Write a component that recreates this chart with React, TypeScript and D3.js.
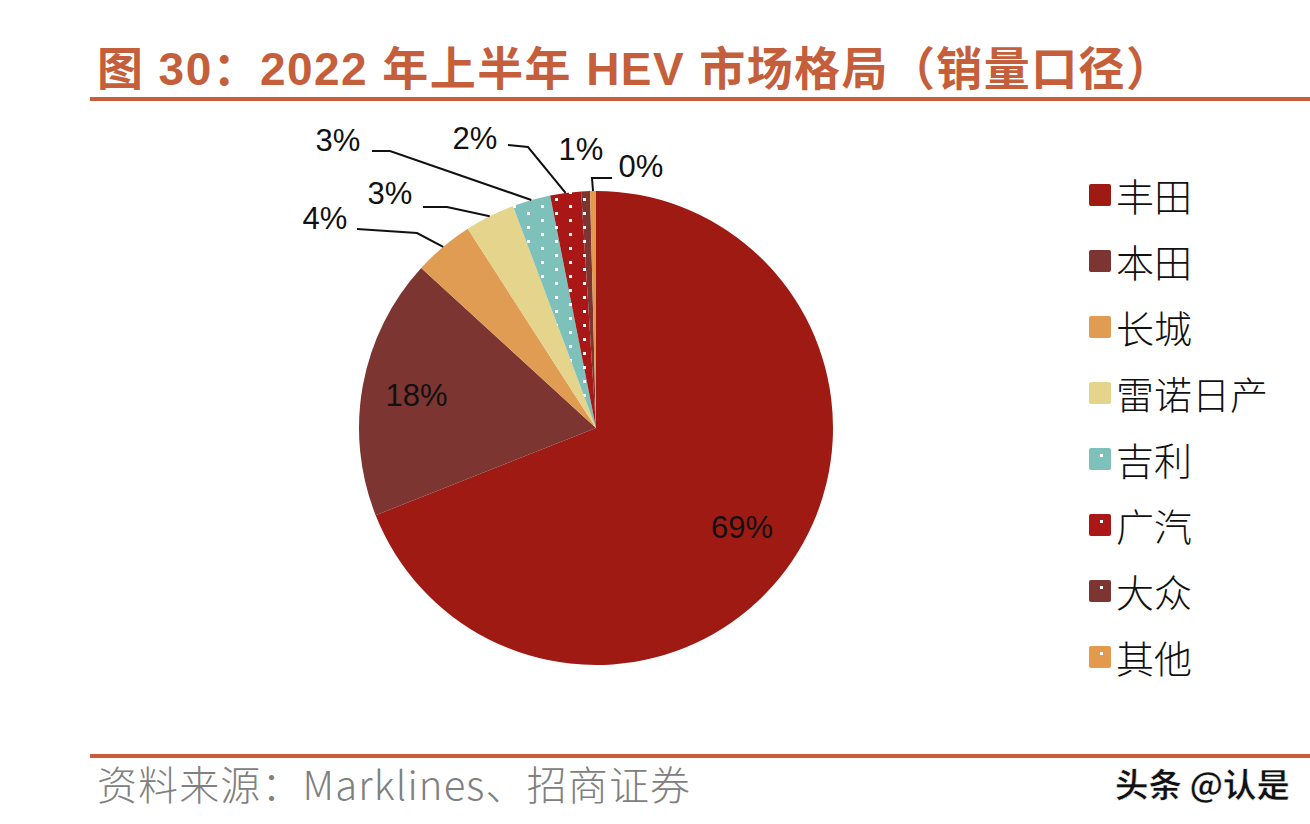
import React from 'react';
import * as d3 from 'd3';

// ---- data ----
const brands = ['丰田', '本田', '长城', '雷诺日产', '吉利', '广汽', '大众', '其他'];
const shares = [69.0, 17.8, 4.1, 3.4, 2.6, 2.1, 0.6, 0.4];
const colors = ['#9F1A13', '#7C3530', '#E09C53', '#E5D48B', '#7EC1BB', '#A91816', '#7C3530', '#E39A4C'];
const dotted = [false, false, false, false, true, true, true, true];
const titleText = '图 30：2022 年上半年 HEV 市场格局（销量口径）';
const sourceText = '资料来源：Marklines、招商证券';
const watermarkText = '头条 @认是';

// ---- layout (positions relative to pie centre) ----
type LabelLayout = { inside?: number; text?: [number, number]; path?: [number, number][] };
const labelLayout: LabelLayout[] = [
  { inside: 0.745 },
  { inside: 0.77 },
  { text: [-271, -210], path: [[-239, -199], [-179, -195]] },
  { text: [-206, -235], path: [[-173, -221], [-149, -221]] },
  { text: [-258, -288], path: [[-224, -277], [-206, -277]] },
  { text: [-121, -290], path: [[-88, -283], [-68, -281]] },
  { text: [-15, -279] },
  { text: [45, -262], path: [[16, -250], [-4, -250]] },
];

const W = 1310;
const H = 824;
const CX = 596;
const CY = 428;
const R = 237;
const LATIN = '"Liberation Sans", Arial, "Noto Sans CJK SC", sans-serif';
const CJK = '"Noto Sans CJK SC", "Liberation Sans", sans-serif';

export default function App() {
  const total = d3.sum(shares);
  const pie = d3.pie<number>().sort(null).value((d) => d).startAngle(0).endAngle(2 * Math.PI);
  const arcs = pie(shares);
  const arcGen = d3.arc<d3.PieArcDatum<number>>().innerRadius(0).outerRadius(R);
  const fmt = (v: number) => `${Math.round((v / total) * 100)}%`;

  return (
    <div style={{ position: 'absolute', left: 0, top: 0 }}>
      <svg width={W} height={H} style={{ display: 'block', background: '#fff' }}>
        <defs>
          {colors.map((c, i) =>
            dotted[i] ? (
              <pattern key={i} id={`dot-${i}`} patternUnits="userSpaceOnUse" width={28} height={14}>
                <rect width={28} height={14} fill={c} />
                <rect x={1} y={1} width={3} height={3} fill="#fff" />
                <rect x={15} y={8} width={3} height={3} fill="#fff" />
              </pattern>
            ) : null
          )}
        </defs>

        {/* title */}
        <text
          x={97}
          y={85}
          fontFamily={LATIN}
          fontWeight="bold"
          fontSize={46}
          fill="#C55F3B"
          textLength={1075}
          lengthAdjust="spacing"
        >
          {titleText}
        </text>
        <rect x={90} y={97} width={W - 90} height={4} fill="#C85D3A" />

        {/* pie */}
        <g transform={`translate(${CX},${CY})`}>
          {arcs.map((a, i) => (
            <path key={i} d={arcGen(a) || ''} fill={dotted[i] ? `url(#dot-${i})` : colors[i]} />
          ))}
          {arcs.map((a, i) => {
            const lay = labelLayout[i];
            const mid = (a.startAngle + a.endAngle) / 2;
            if (lay.inside !== undefined) {
              const rr = R * lay.inside;
              return (
                <text
                  key={`l${i}`}
                  x={Math.sin(mid) * rr}
                  y={-Math.cos(mid) * rr}
                  dy="0.36em"
                  textAnchor="middle"
                  fontFamily={LATIN}
                  fontSize={31}
                  fill="#111"
                >
                  {fmt(shares[i])}
                </text>
              );
            }
            const edge: [number, number] = [Math.sin(mid) * R, -Math.cos(mid) * R];
            const pts = lay.path ? [...lay.path, edge] : null;
            return (
              <g key={`l${i}`}>
                {pts && (
                  <path
                    d={d3.line()(pts) || ''}
                    fill="none"
                    stroke="#111"
                    strokeWidth={2}
                  />
                )}
                <text
                  x={lay.text![0]}
                  y={lay.text![1]}
                  dy="0.36em"
                  textAnchor="middle"
                  fontFamily={LATIN}
                  fontSize={31}
                  fill="#111"
                >
                  {fmt(shares[i])}
                </text>
              </g>
            );
          })}
        </g>

        {/* legend */}
        {brands.map((b, i) => {
          const cy = 196 + i * 66;
          return (
            <g key={b}>
              <rect x={1089} y={cy - 12} width={22} height={22} rx={2} fill={colors[i]} />
              {dotted[i] && <rect x={1100} y={cy - 6} width={3} height={3} fill="#fff" />}
              <text
                x={1116}
                y={cy - 2}
                dominantBaseline="central"
                fontFamily={CJK}
                fontWeight={300}
                fontSize={38}
                fill="#111"
              >
                {b}
              </text>
            </g>
          );
        })}

        {/* footer */}
        <rect x={90} y={754} width={W - 90} height={4} fill="#C85D3A" />
        <text
          x={97}
          y={800}
          fontFamily={CJK}
          fontWeight={300}
          fontSize={40}
          fill="#808080"
          textLength={593}
          lengthAdjust="spacing"
        >
          {sourceText}
        </text>
        <text
          x={1115}
          y={797}
          fontFamily={CJK}
          fontWeight="bold"
          fontSize={33}
          fill="#111"
          stroke="#fff"
          strokeWidth={0.5}
          textLength={175}
          lengthAdjust="spacingAndGlyphs"
        >
          {watermarkText}
        </text>
      </svg>
    </div>
  );
}
